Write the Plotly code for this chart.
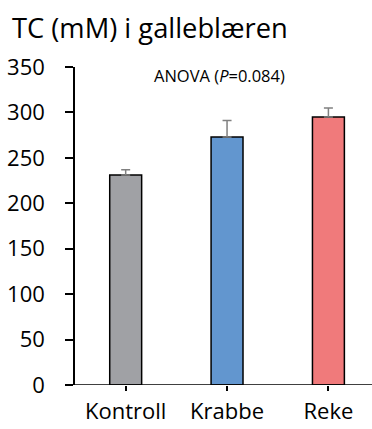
import plotly.graph_objects as go

groups = ["Kontroll", "Krabbe", "Reke"]
tc_mean = [231, 273, 295]
tc_sem = [6, 18, 10]
bar_colors = ["#a0a1a5", "#6296cf", "#f07a7b"]
y_ticks = [0, 50, 100, 150, 200, 250, 300, 350]

FONT = "'Open Sans', Lato, sans-serif"

fig = go.Figure()
fig.add_trace(go.Bar(
    x=list(range(len(groups))),
    y=tc_mean,
    width=0.315,
    marker=dict(color=bar_colors, line=dict(color="black", width=1.5)),
    error_y=dict(type="data", symmetric=False, array=tc_sem,
                 arrayminus=[0] * len(tc_sem),
                 color="#808080", thickness=1.5, width=4.5),
    showlegend=False,
))

# baseline extends slightly left of the y axis
fig.add_shape(type="line", xref="paper", yref="y",
              x0=-8 / 297, x1=1, y0=0, y1=0,
              line=dict(color="black", width=1.5))

fig.add_annotation(text="ANOVA (<i>P</i>=0.084)", xref="paper", yref="y",
                   x=(219 - 75) / 297, y=341, showarrow=False,
                   font=dict(family=FONT, size=16.5, color="black"))

fig.update_layout(
    width=372, height=429,
    margin=dict(l=75, r=0, t=66.7, b=44),
    paper_bgcolor="white", plot_bgcolor="white",
    title=dict(text="TC (mM) i galleblæren", x=12 / 372, xanchor="left",
               xref="container", y=1 - 28 / 429, yanchor="middle",
               yref="container",
               font=dict(family=FONT, size=27.3, color="black")),
    font=dict(family=FONT, color="black"),
    xaxis=dict(
        range=[-0.5, 2.43], tickmode="array",
        tickvals=list(range(len(groups))), ticktext=groups,
        showline=False, showgrid=False, zeroline=False,
        ticks="outside", ticklen=5, tickwidth=1.5, tickcolor="black",
        ticklabelstandoff=2, automargin=False,
        tickfont=dict(family=FONT, size=22, color="black"),
    ),
    yaxis=dict(
        range=[0, 350], tickmode="array", tickvals=y_ticks,
        showline=True, linecolor="black", linewidth=1.5,
        showgrid=False, zeroline=False,
        ticks="outside", ticklen=8, tickwidth=1.5, tickcolor="black",
        ticklabelstandoff=16, automargin=False,
        tickfont=dict(family=FONT, size=22, color="black"),
    ),
)

fig.write_html("out.html")
